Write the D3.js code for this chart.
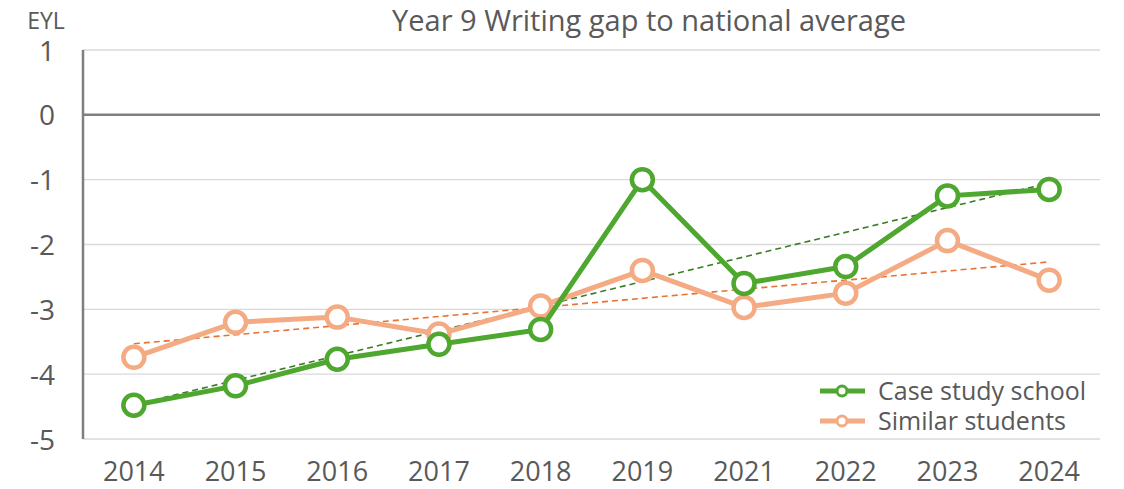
<html>
<head>
<meta charset="utf-8"/>
<style>
  body { margin: 0; background: #fff; }
  text { font-family: "Open Sans", "Liberation Sans", sans-serif; fill: #595959; }
</style>
</head>
<body>
<svg></svg>
<script src="https://d3js.org/d3.v7.min.js"></script>
<script>
var years = ["2014", "2015", "2016", "2017", "2018", "2019", "2021", "2022", "2023", "2024"];
var schoolGap = [-4.48, -4.18, -3.77, -3.54, -3.31, -1.0, -2.6, -2.34, -1.25, -1.15];
var similarGap = [-3.74, -3.2, -3.12, -3.38, -2.95, -2.4, -2.97, -2.75, -1.94, -2.55];
var yTicks = [1, 0, -1, -2, -3, -4, -5];

var W = 1124, H = 489;
var margin = {top: 50, right: 24, bottom: 50, left: 83};
var width = W - margin.left - margin.right;
var height = H - margin.top - margin.bottom;

var svg = d3.select("svg").attr("width", W).attr("height", H);
var chart = svg.append("g")
  .attr("transform", "translate(" + margin.left + "," + margin.top + ")");

var x = d3.scalePoint().domain(years).range([0, width]).padding(0.5);
var y = d3.scaleLinear().domain([-5, 1]).range([height, 0]);

// gridlines
chart.append("g").selectAll("line")
  .data(yTicks.filter(function(d) { return d !== 0; }))
  .enter().append("line")
  .attr("x1", 0).attr("x2", width)
  .attr("y1", function(d) { return y(d); })
  .attr("y2", function(d) { return y(d); })
  .attr("stroke", "#d9d9d9").attr("stroke-width", 1.3);

// zero line
chart.append("line")
  .attr("x1", 0).attr("x2", width)
  .attr("y1", y(0)).attr("y2", y(0))
  .attr("stroke", "#7f7f7f").attr("stroke-width", 2.5);

// y axis line
chart.append("line")
  .attr("x1", 0).attr("x2", 0)
  .attr("y1", 0).attr("y2", height)
  .attr("stroke", "#7f7f7f").attr("stroke-width", 2.5);

// y tick labels
chart.append("g").selectAll("text")
  .data(yTicks)
  .enter().append("text")
  .attr("x", -28)
  .attr("y", function(d) { return y(d); })
  .attr("dy", "0.38em")
  .attr("text-anchor", "end")
  .style("font-size", "28px")
  .text(function(d) { return d; });

// x tick labels
chart.append("g").selectAll("text")
  .data(years)
  .enter().append("text")
  .attr("x", function(d) { return x(d); })
  .attr("y", height + 42)
  .attr("text-anchor", "middle")
  .style("font-size", "27px")
  .text(function(d) { return d; });

svg.append("text")
  .attr("x", 46).attr("y", 29)
  .attr("text-anchor", "middle")
  .style("font-size", "23px")
  .text("EYL");

svg.append("text")
  .attr("x", 649).attr("y", 31)
  .attr("text-anchor", "middle")
  .style("font-size", "29px")
  .text("Year 9 Writing gap to national average");

function trend(vals) {
  var n = vals.length;
  var mx = d3.mean(vals, function(v, i) { return i; });
  var my = d3.mean(vals);
  var sxy = 0, sxx = 0;
  vals.forEach(function(v, i) { sxy += (i - mx) * (v - my); sxx += (i - mx) * (i - mx); });
  var b = sxy / sxx, a = my - b * mx;
  return [a, a + b * (n - 1)];
}

var series = [
  {name: "Similar students", values: similarGap, color: "#f4ab84", trend: "#e97132"},
  {name: "Case study school", values: schoolGap, color: "#4ea72e", trend: "#3a7d22"}
];

var line = d3.line()
  .x(function(d, i) { return x(years[i]); })
  .y(function(d) { return y(d); });

series.forEach(function(s) {
  var t = trend(s.values);
  chart.append("line")
    .attr("x1", x(years[0])).attr("y1", y(t[0]))
    .attr("x2", x(years[years.length - 1])).attr("y2", y(t[1]))
    .attr("stroke", s.trend).attr("stroke-width", 1.6)
    .attr("stroke-dasharray", "6,4");
});

series.forEach(function(s) {
  chart.append("path")
    .datum(s.values)
    .attr("d", line)
    .attr("fill", "none")
    .attr("stroke", s.color)
    .attr("stroke-width", 5)
    .attr("stroke-linejoin", "round");
  chart.append("g").selectAll("circle")
    .data(s.values)
    .enter().append("circle")
    .attr("cx", function(d, i) { return x(years[i]); })
    .attr("cy", function(d) { return y(d); })
    .attr("r", 10.5)
    .attr("fill", "#fff")
    .attr("stroke", s.color)
    .attr("stroke-width", 4.5);
});

// legend
var legend = svg.append("g").attr("transform", "translate(820,391)");
[series[1], series[0]].forEach(function(s, i) {
  var g = legend.append("g").attr("transform", "translate(0," + (i * 30) + ")");
  g.append("line").attr("x1", 0).attr("x2", 45).attr("y1", 0).attr("y2", 0)
    .attr("stroke", s.color).attr("stroke-width", 5);
  g.append("circle").attr("cx", 22).attr("cy", 0).attr("r", 5)
    .attr("fill", "#fff").attr("stroke", s.color).attr("stroke-width", 3);
  g.append("text").attr("x", 58).attr("y", 0).attr("dy", "0.36em")
    .style("font-size", "25px").text(s.name);
});
</script>
</body>
</html>
